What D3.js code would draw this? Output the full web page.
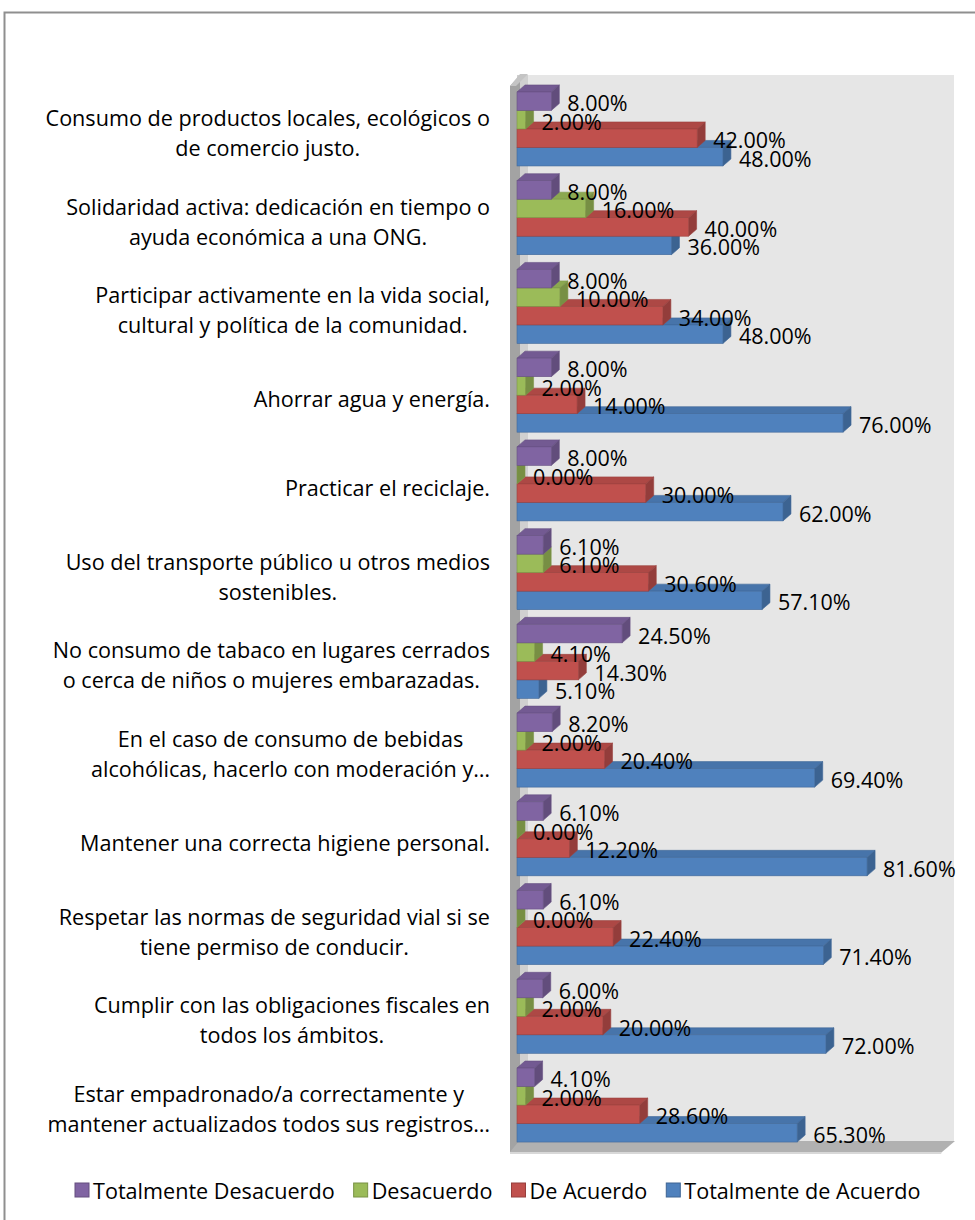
<!DOCTYPE html>
<html><head><meta charset="utf-8">
<script src="https://cdn.jsdelivr.net/npm/d3@7"></script>
<style>body{margin:0;background:#fff} svg{display:block} text{font-family:"Open Sans", sans-serif;fill:#000}</style>
</head><body><svg id="c" width="975" height="1220"></svg>
<script>
const categories = [
  "Consumo de productos locales, ecológicos o|de comercio justo.",
  "Solidaridad activa: dedicación en tiempo o|ayuda económica a una ONG.",
  "Participar activamente en la vida social,|cultural y política de la comunidad.",
  "Ahorrar agua y energía.",
  "Practicar el reciclaje.",
  "Uso del transporte público u otros medios|sostenibles.",
  "No consumo de tabaco en lugares cerrados|o cerca de niños o mujeres embarazadas.",
  "En el caso de consumo de bebidas|alcohólicas, hacerlo con moderación y…",
  "Mantener una correcta higiene personal.",
  "Respetar las normas de seguridad vial si se|tiene permiso de conducir.",
  "Cumplir con las obligaciones fiscales en|todos los ámbitos.",
  "Estar empadronado/a correctamente y|mantener actualizados todos sus registros…"
];
const seriesNames = ["Totalmente Desacuerdo","Desacuerdo","De Acuerdo","Totalmente de Acuerdo"];
const totDesacuerdo = [8.0, 8.0, 8.0, 8.0, 8.0, 6.1, 24.5, 8.2, 6.1, 6.1, 6.0, 4.1];
const desacuerdo    = [2.0, 16.0, 10.0, 2.0, 0.0, 6.1, 4.1, 2.0, 0.0, 0.0, 2.0, 2.0];
const deAcuerdo     = [42.0, 40.0, 34.0, 14.0, 30.0, 30.6, 14.3, 20.4, 12.2, 22.4, 20.0, 28.6];
const totAcuerdo    = [48.0, 36.0, 48.0, 76.0, 62.0, 57.1, 5.1, 69.4, 81.6, 71.4, 72.0, 65.3];
const seriesValues = [totDesacuerdo, desacuerdo, deAcuerdo, totAcuerdo];
const colors = ["#8064A2","#9BBB59","#C0504D","#4F81BD"];

const svg = d3.select("#c");
const FS_CAT = 21.6, FS_VAL = 21.5, FS_LEG = 21.6;
const dx = 8, dy = 7;

// frame
svg.append("rect").attr("x",4.5).attr("y",12.5).attr("width",1000).attr("height",1300)
  .attr("fill","#fff").attr("stroke","#8f8f8f").attr("stroke-width",2);

const x = d3.scaleLinear().domain([0,100]).range([517,946]);
const y = d3.scaleBand().domain(d3.range(categories.length)).range([84.6,1149.4]).paddingInner(0.166).paddingOuter(0.083);
const ys = d3.scaleBand().domain(d3.range(4)).range([0,y.bandwidth()]);

// back wall
svg.append("rect").attr("x",x(0)+3).attr("y",75).attr("width",x(100)+dx-x(0)-3).attr("height",1141-75).attr("fill","#e6e6e6");
svg.append("rect").attr("x",x(0)).attr("y",75).attr("width",11).attr("height",1141-75).attr("fill","#d0d0d0");
// left wall
svg.append("polygon").attr("points",[[510,86],[520,75],[520,1142],[510,1153]].join(" ")).attr("fill","#a3a3a3");
svg.append("polygon").attr("points",[[516,86],[528,74],[520,74],[510,86]].join(" ")).attr("fill","#c4c4c4");
// floor
svg.append("polygon").attr("points",[[x(0)+2,1141],[x(100)+dx+1,1141],[x(100)-4,1152],[510,1152]].join(" ")).attr("fill","#b1b1b1");
svg.append("polygon").attr("points",[[510,1152],[x(100)-4,1152],[x(100)-5,1154],[510,1154]].join(" ")).attr("fill","#d8d8d8");

// bars
const groups = svg.append("g").selectAll("g").data(categories).join("g")
  .attr("transform",(d,i)=>`translate(0,${y(i)})`);
groups.each(function(cat,i){
  const g = d3.select(this);
  for (let s = 3; s >= 0; s--) {
    const v = seriesValues[s][i];
    const c = d3.color(colors[s]);
    const x0 = x(0), x1 = x(v), yt = ys(s), yb = ys(s)+ys.bandwidth();
    const stroke = c.darker(0.6).toString();
    g.append("polygon").attr("points",[[x0,yt],[x1,yt],[x1+dx,yt-dy],[x0+dx,yt-dy]].join(" "))
      .attr("fill",c.darker(0.3)).attr("stroke",stroke).attr("stroke-width",0.6);
    g.append("polygon").attr("points",[[x1,yt],[x1+dx,yt-dy],[x1+dx,yb-dy],[x1,yb]].join(" "))
      .attr("fill",c.darker(0.75)).attr("stroke",stroke).attr("stroke-width",0.6);
    g.append("rect").attr("x",x0).attr("y",yt).attr("width",Math.max(0,x1-x0)).attr("height",yb-yt)
      .attr("fill",c).attr("stroke",stroke).attr("stroke-width",0.6);
  }
  for (let s = 3; s >= 0; s--) {
    const v = seriesValues[s][i];
    g.append("text").attr("x",x(v)+16).attr("y",ys(s)+ys.bandwidth()/2+1.5)
      .attr("dominant-baseline","central").attr("font-size",FS_VAL).text(d3.format(".2f")(v)+"%");
  }
});

// category labels
const labG = svg.append("g");
categories.forEach((cat,i)=>{
  const lines = cat.split("|");
  const cy = y(i)+y.bandwidth()/2+3.5;
  const t = labG.append("g");
  const texts = lines.map((ln,k)=> t.append("text").attr("y",cy+(k-(lines.length-1)/2)*30)
      .attr("dominant-baseline","central").attr("text-anchor","middle").attr("font-size",FS_CAT).text(ln));
  const w = d3.max(texts,tt=>tt.node().getComputedTextLength());
  texts.forEach(tt=>tt.attr("x",490-w/2));
});

// legend
const lg = svg.append("g");
let lx = 75;
const ly = 1190;
seriesNames.forEach((n,s)=>{
  const c = d3.color(colors[s]);
  lg.append("rect").attr("x",lx).attr("y",ly-7).attr("width",14).attr("height",14)
    .attr("fill",c).attr("stroke",c.darker(0.7)).attr("stroke-width",1);
  const t = lg.append("text").attr("x",lx+18).attr("y",ly).attr("dominant-baseline","central")
    .attr("font-size",FS_LEG).text(n);
  lx += 18 + t.node().getComputedTextLength() + 19;
});
</script></body></html>
